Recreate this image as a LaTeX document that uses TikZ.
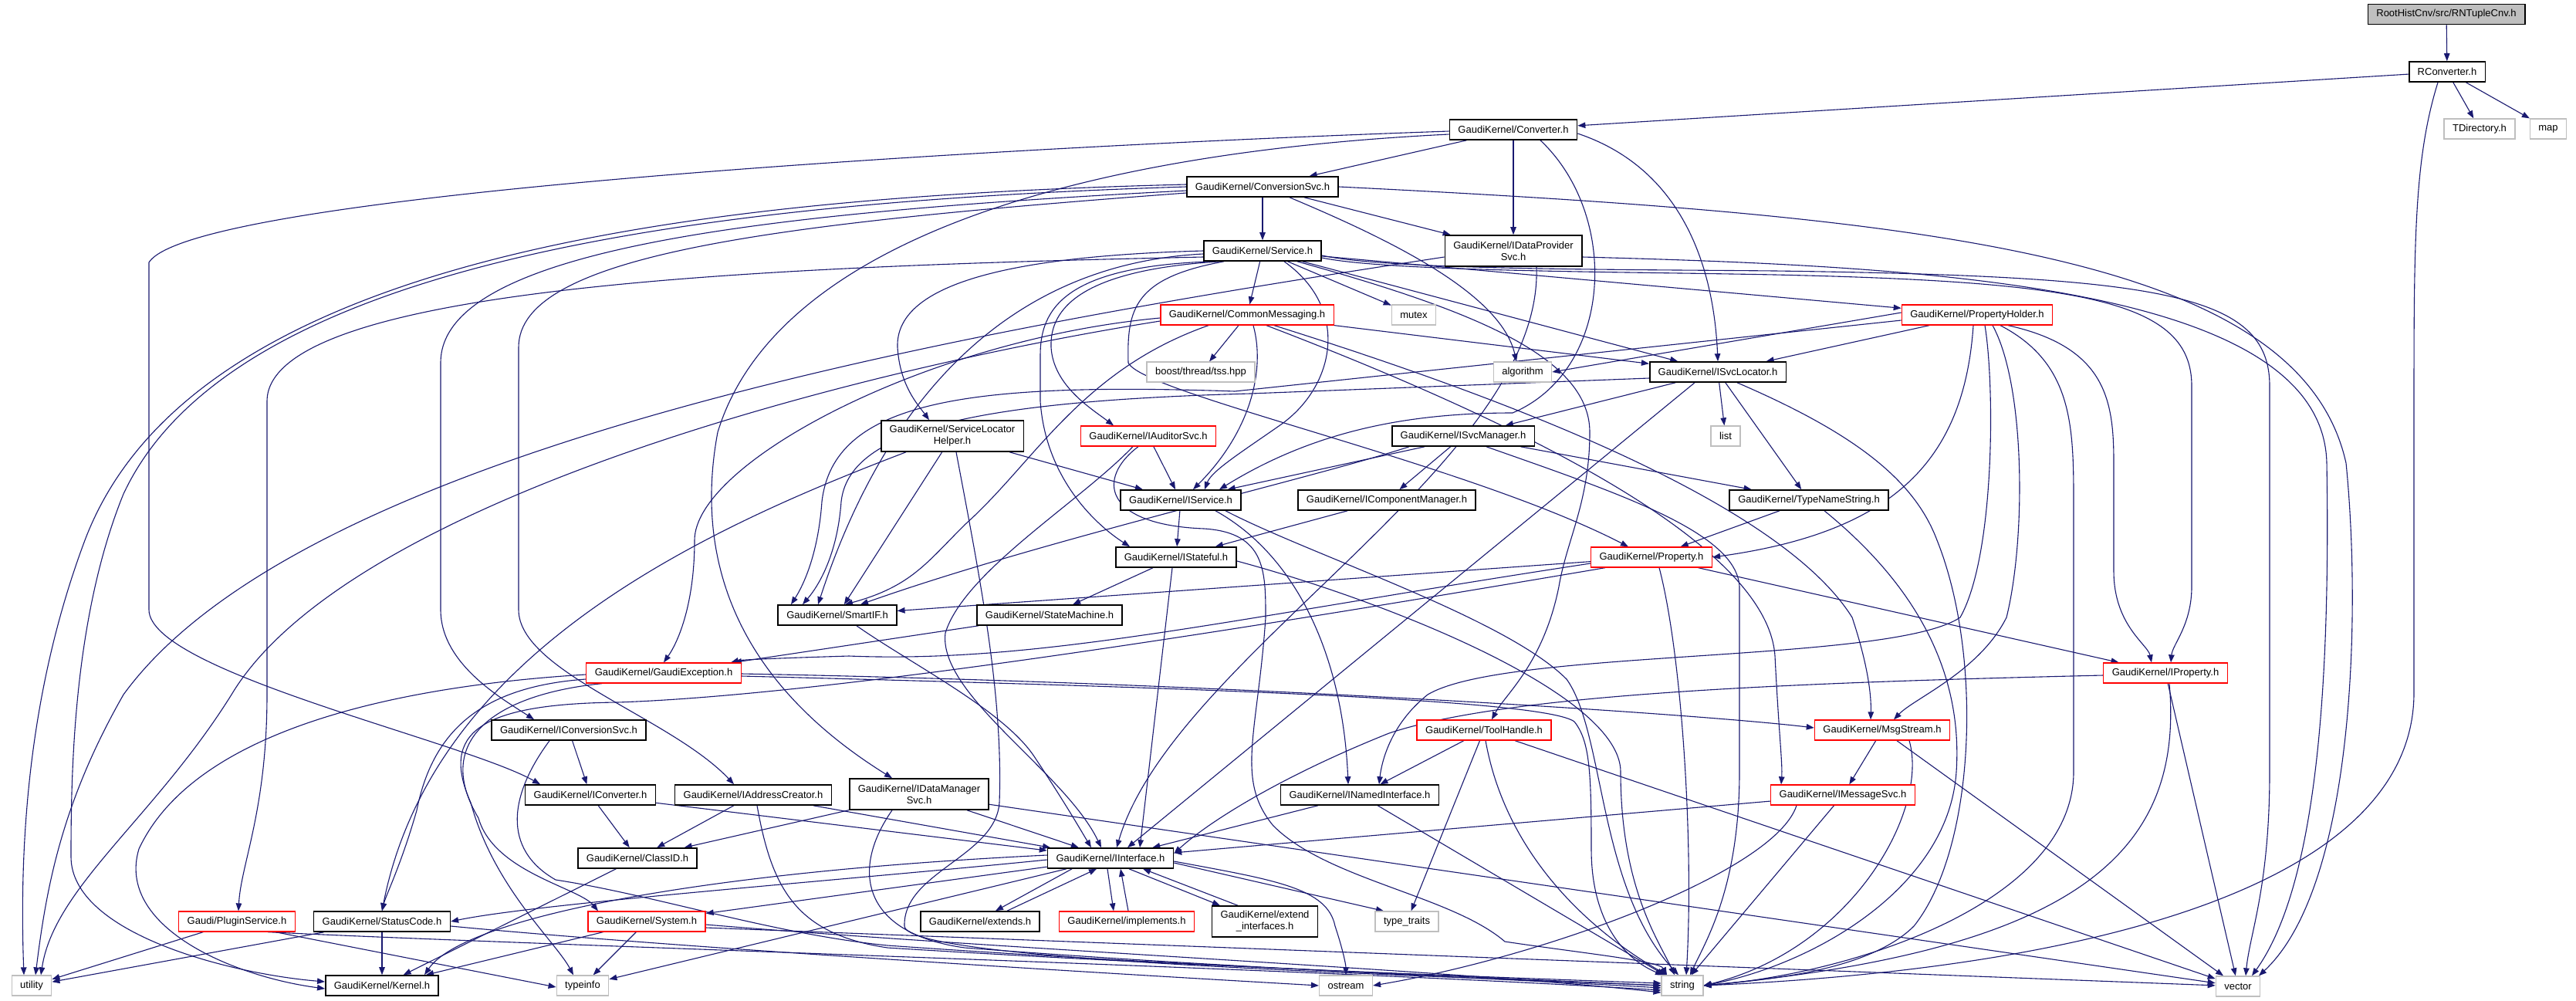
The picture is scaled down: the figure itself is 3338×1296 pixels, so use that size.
\documentclass[tikz,border=0pt]{standalone}
\usepackage{fontspec}
\setmainfont{Liberation Sans}
\usetikzlibrary{arrows.meta}
\definecolor{edgec}{HTML}{191970}
\definecolor{gline}{HTML}{BFBFBF}
\definecolor{gfill}{HTML}{BFBFBF}
\pgfdeclarelayer{bg}
\pgfsetlayers{bg,main}
\begin{document}
\begin{tikzpicture}[x=1pt,y=-1pt,
  every node/.style={font=\fontsize{13}{15}\selectfont},
  box/.style={draw, fill=white, minimum height=26pt, inner xsep=11pt, inner ysep=2pt},
  bb/.style={box, draw=black, line width=1.6pt},
  rb/.style={box, draw=red, line width=1.3pt},
  gb/.style={box, draw=gline, line width=1.3pt},
  two/.style={align=center, minimum height=40pt},
  e/.style={draw=edgec, line width=1.1pt, -{Triangle[length=10pt,width=7.5pt]}}]
\useasboundingbox (0,0) rectangle (3338,1296);
% ---------------- nodes
\node[bb, fill=gfill] (rnt) at (3170,18.5) {RootHistCnv/src/RNTupleCnv.h};
\node[bb] (rcv) at (3171,93) {RConverter.h};
\node[gb] (tdir) at (3213,167) {TDirectory.h};
\node[gb] (map) at (3302,167) {map};
\node[bb] (cnv) at (1961,168) {GaudiKernel/Converter.h};
\node[bb] (csvc) at (1636,242) {GaudiKernel/ConversionSvc.h};
\node[bb,two] (idps) at (1961,325) {GaudiKernel/IDataProvider\\Svc.h};
\node[bb] (svc) at (1636,325) {GaudiKernel/Service.h};
\node[rb] (cmsg) at (1616,408) {GaudiKernel/CommonMessaging.h};
\node[gb] (mutex) at (1832,408) {mutex};
\node[rb] (phold) at (2562,408) {GaudiKernel/PropertyHolder.h};
\node[gb] (boost) at (1556,482) {boost/thread/tss.hpp};
\node[gb] (algo) at (1973,482) {algorithm};
\node[bb] (isl) at (2226,482) {GaudiKernel/ISvcLocator.h};
\node[bb,two] (slh) at (1234,565) {GaudiKernel/ServiceLocator\\Helper.h};
\node[rb] (iaud) at (1488,565) {GaudiKernel/IAuditorSvc.h};
\node[bb] (ism) at (1896,565) {GaudiKernel/ISvcManager.h};
\node[gb] (list) at (2236,565) {list};
\node[bb] (isvc) at (1530,648) {GaudiKernel/IService.h};
\node[bb] (icm) at (1797,648) {GaudiKernel/IComponentManager.h};
\node[bb] (tns) at (2344,648) {GaudiKernel/TypeNameString.h};
\node[bb] (istf) at (1524,722) {GaudiKernel/IStateful.h};
\node[rb] (prop) at (2140,722) {GaudiKernel/Property.h};
\node[bb] (sif) at (1085,797) {GaudiKernel/SmartIF.h};
\node[bb] (stm) at (1360,797) {GaudiKernel/StateMachine.h};
\node[rb] (gexc) at (860,872) {GaudiKernel/GaudiException.h};
\node[rb] (iprop) at (2806,872) {GaudiKernel/IProperty.h};
\node[bb] (icsvc) at (737,946) {GaudiKernel/IConversionSvc.h};
\node[rb] (tool) at (1923,946) {GaudiKernel/ToolHandle.h};
\node[rb] (msg) at (2439,946) {GaudiKernel/MsgStream.h};
\node[bb] (icnv) at (765,1030) {GaudiKernel/IConverter.h};
\node[bb] (iac) at (976,1030) {GaudiKernel/IAddressCreator.h};
\node[bb,two] (idms) at (1191,1029) {GaudiKernel/IDataManager\\Svc.h};
\node[bb] (ini) at (1762,1030) {GaudiKernel/INamedInterface.h};
\node[rb] (imsg) at (2388,1030) {GaudiKernel/IMessageSvc.h};
\node[bb] (cid) at (826,1112) {GaudiKernel/ClassID.h};
\node[bb] (iif) at (1439,1112) {GaudiKernel/IInterface.h};
\node[rb] (plug) at (307,1194) {Gaudi/PluginService.h};
\node[bb] (sc) at (495,1194) {GaudiKernel/StatusCode.h};
\node[rb] (sys) at (838,1194) {GaudiKernel/System.h};
\node[bb] (ext) at (1270,1194) {GaudiKernel/extends.h};
\node[rb] (impl) at (1460,1194) {GaudiKernel/implements.h};
\node[bb,two] (exti) at (1639,1194) {GaudiKernel/extend\\\_interfaces.h};
\node[gb] (tt) at (1823,1194) {type\_traits};
\node[gb] (util) at (41,1277) {utility};
\node[bb] (kern) at (495,1277) {GaudiKernel/Kernel.h};
\node[gb] (tinfo) at (755,1277) {typeinfo};
\node[gb] (ost) at (1744,1277) {ostream};
\node[gb] (str) at (2180,1277) {string};
\node[gb] (vec) at (2900,1278) {vector};
% ---------------- edges
\begin{pgfonlayer}{bg}
\fill[white] (0,0) rectangle (3338,1296);
% RNTupleCnv / RConverter
\draw[e] (rnt) -- (rcv);
\draw[e] (rcv) -- (cnv);
\draw[e] (rcv) -- (tdir);
\draw[e] (rcv) -- (map);
\draw[e] ([xshift=-12pt]rcv.south) .. controls (3130,200) and (3128,300) .. (3128,500) -- (3128,900) .. controls (3125,1150) and (2700,1255) .. (str.east);
% Converter
\draw[e] (cnv) -- (csvc);
\draw[e] (cnv) -- (idps);
\draw[e] ([yshift=-5pt]cnv.east) .. controls (2170,215) and (2220,330) .. (isl.north);
\draw[e] ([xshift=35pt]cnv.south) .. controls (2100,280) and (2090,480) .. (1960,535) .. controls (1820,535) and (1700,560) .. ([xshift=50pt]isvc.north);
\draw[e] ([yshift=-2pt]cnv.west) .. controls (1300,190) and (250,250) .. (193,340) -- (193,790) .. controls (193,870) and (600,960) .. ([xshift=-65pt]icnv.north);
\draw[e] ([yshift=-6pt]cnv.west) .. controls (1350,200) and (1000,330) .. (930,560) .. controls (900,720) and (950,880) .. ([xshift=-35pt]idms.north);
% ConversionSvc
\draw[e] (csvc) -- (svc);
\draw[e] (csvc) -- (idps);
\draw[e] ([xshift=35pt]csvc.south) .. controls (1800,310) and (1945,380) .. ([xshift=-8pt]algo.north);
\draw[e] (csvc.east) .. controls (2500,280) and (2980,330) .. (3040,600) .. controls (3060,800) and (3050,1150) .. ([xshift=27pt]vec.north);
\draw[e] ([yshift=-5pt]csvc.west) .. controls (1000,275) and (571,320) .. (571,470) -- (571,790) .. controls (571,860) and (650,905) .. ([xshift=-45pt]icsvc.north);
\draw[e] ([yshift=-8pt]csvc.west) .. controls (1000,290) and (672,330) .. (672,450) -- (672,790) .. controls (672,870) and (870,930) .. ([xshift=-25pt]iac.north);
\draw[e] ([yshift=3pt]csvc.west) .. controls (900,255) and (250,330) .. (110,700) .. controls (35,900) and (25,1100) .. ([xshift=-10pt]util.north);
\draw[e] (csvc.west) .. controls (900,262) and (300,340) .. (160,640) .. controls (95,800) and (92,1000) .. (92,1110) .. controls (92,1210) and (300,1262) .. ([yshift=5pt]kern.west);
% IDataProviderSvc
\draw[e] ([yshift=-8pt]idps.west) .. controls (1300,420) and (400,570) .. (160,900) .. controls (80,1040) and (60,1150) .. ([xshift=5pt]util.north);
\draw[e] ([yshift=-8pt]idps.east) .. controls (2500,345) and (3010,370) .. (3015,600) .. controls (3020,900) and (3000,1150) .. ([xshift=18pt]vec.north);
\draw[e] ([xshift=30pt]idps.south) .. controls (2000,600) and (1520,850) .. ([xshift=8pt]iif.north);
% Service
\draw[e] (svc) -- (cmsg);
\draw[e] (svc) -- (mutex);
\draw[e] (svc) -- (isl);
\draw[e] (svc) -- (phold);
\draw[e] ([yshift=-9pt]svc.east) .. controls (1800,352) and (2100,352) .. (2300,356) .. controls (2700,365) and (2840,390) .. (2840,500) -- (2840,760) .. controls (2840,810) and (2815,835) .. ([xshift=7pt]iprop.north);
\draw[e] ([yshift=-6pt]svc.east) .. controls (1800,350) and (2100,349) .. (2300,351) .. controls (2800,358) and (2941,380) .. (2941,500) -- (2941,1000) .. controls (2941,1150) and (2915,1210) .. ([xshift=10pt]vec.north);
\draw[e] (svc.west) .. controls (1300,332) and (1160,370) .. (1163,450) .. controls (1166,500) and (1190,525) .. ([xshift=-30pt]slh.north);
\draw[e] ([xshift=-55pt]svc.south) .. controls (1400,350) and (1360,400) .. (1362,450) .. controls (1365,500) and (1415,530) .. ([xshift=-45pt]iaud.north);
\draw[e] ([xshift=-65pt]svc.south) .. controls (1380,345) and (1348,400) .. (1348,460) -- (1348,520) .. controls (1355,620) and (1420,680) .. ([xshift=-60pt]istf.north);
\draw[e] ([xshift=28pt]svc.south) .. controls (1750,400) and (1730,500) .. (1660,550) .. controls (1610,585) and (1570,610) .. ([xshift=31pt]isvc.north);
\draw[e] ([yshift=-4pt]svc.west) .. controls (1250,345) and (1120,600) .. ([xshift=-25pt]sif.north);
\draw[e] ([xshift=-50pt]svc.south) .. controls (1470,360) and (1460,400) .. (1462,470) .. controls (1480,510) and (1900,600) .. ([xshift=-30pt]prop.north);
\draw[e] ([xshift=45pt]svc.south) .. controls (1900,400) and (2060,460) .. (2060,560) .. controls (2060,650) and (2030,700) .. (2020,760) .. controls (2000,860) and (1950,900) .. ([xshift=10pt]tool.north);
\draw[e] ([yshift=-8pt]svc.west) .. controls (1000,345) and (346,370) .. (346,520) -- (346,900) .. controls (346,1050) and (312,1120) .. ([xshift=2pt]plug.north);
% CommonMessaging
\draw[e] (cmsg) -- (boost);
\draw[e] (cmsg) -- (isl);
\draw[e] ([xshift=8pt]cmsg.south) .. controls (1640,480) and (1620,560) .. ([xshift=16pt]isvc.north);
\draw[e] ([xshift=35pt]cmsg.south) .. controls (1900,500) and (2300,640) .. (2400,800) .. controls (2420,860) and (2425,900) .. ([xshift=-15pt]msg.north);
\draw[e] ([xshift=25pt]cmsg.south) .. controls (1950,540) and (2290,700) .. (2300,850) .. controls (2305,950) and (2310,990) .. ([xshift=-80pt]imsg.north);
\draw[e] ([xshift=-50pt]cmsg.south) .. controls (1400,480) and (1340,600) .. (1250,680) .. controls (1200,730) and (1180,760) .. ([xshift=10pt]sif.north);
\draw[e] ([yshift=-4pt]cmsg.west) .. controls (1200,440) and (900,600) .. (900,700) .. controls (900,780) and (880,830) .. (gexc.north);
\draw[e] ([yshift=-8pt]cmsg.west) .. controls (1100,480) and (450,650) .. (300,900) .. controls (200,1060) and (70,1150) .. ([xshift=12pt]util.north);
% PropertyHolder
\draw[e] ([yshift=3pt]phold.west) -- (algo.east);
\draw[e] (phold) -- (isl);
\draw[e] ([xshift=-5pt]phold.south) .. controls (2545,600) and (2450,690) .. (prop.east);
\draw[e] ([xshift=40pt]phold.south) .. controls (2730,450) and (2739,520) .. (2739,600) -- (2739,740) .. controls (2739,810) and (2783,835) .. ([xshift=-18pt]iprop.north);
\draw[e] ([xshift=30pt]phold.south) .. controls (2685,470) and (2687,550) .. (2687,650) -- (2687,1000) .. controls (2687,1170) and (2400,1262) .. (str.east);
\draw[e] ([xshift=10pt]phold.south) .. controls (2585,500) and (2585,720) .. (2540,800) .. controls (2450,860) and (1950,840) .. (1850,900) .. controls (1800,940) and (1790,990) .. ([xshift=25pt]ini.north);
\draw[e] ([xshift=20pt]phold.south) .. controls (2625,500) and (2625,700) .. (2600,800) .. controls (2565,870) and (2480,905) .. ([xshift=15pt]msg.north);
\draw[e] ([yshift=-7pt]phold.west) -- (1600,507) .. controls (1250,495) and (1080,520) .. (1065,650) .. controls (1060,720) and (1040,760) .. ([xshift=-60pt]sif.north);
% ISvcLocator
\draw[e] (isl) -- (ism);
\draw[e] (isl) -- (list);
\draw[e] (isl) -- (tns);
\draw[e] ([xshift=-30pt]isl.south) -- ([xshift=22pt]iif.north);
\draw[e] ([xshift=25pt]isl.south) .. controls (2400,560) and (2480,620) .. (2510,700) .. controls (2570,850) and (2560,1100) .. (2480,1200) .. controls (2420,1260) and (2280,1270) .. (str.east);
\draw[e] ([yshift=-8pt]isl.west) -- (1620,510) .. controls (1250,520) and (1100,560) .. (1090,650) .. controls (1085,720) and (1060,760) .. ([xshift=-45pt]sif.north);
% ServiceLocatorHelper
\draw[e] (slh) -- (isvc);
\draw[e] (slh) -- (sif);
\draw[e] ([xshift=5pt]slh.south) .. controls (1270,750) and (1300,900) .. (1295,1040) .. controls (1290,1110) and (1170,1130) .. (1172,1200) .. controls (1175,1245) and (1800,1262) .. (str.west);
\draw[e] ([xshift=-60pt]slh.south) .. controls (900,690) and (560,850) .. (sc.north);
% IAuditorSvc
\draw[e] (iaud) -- (isvc);
\draw[e] ([xshift=-20pt]iaud.south) .. controls (1400,650) and (1250,740) .. (1225,820) .. controls (1215,900) and (1380,1000) .. ([xshift=-12pt]iif.north);
\draw[e] ([xshift=-13pt]iaud.south) .. controls (1420,620) and (1430,680) .. (1560,685) .. controls (1640,690) and (1640,740) .. (1640,800) .. controls (1630,950) and (1600,1010) .. (1650,1070) .. controls (1720,1140) and (1880,1160) .. (1950,1220) .. controls (2050,1235) and (2150,1245) .. ([xshift=-20pt]str.north);
% ISvcManager
\draw[e] (ism) -- (icm);
\draw[e] (ism) -- (tns);
\draw[e] ([xshift=-50pt]ism.south) -- ([xshift=-18pt]isvc.north east);
\draw[e] ([xshift=-70pt]ism.south) .. controls (1700,620) and (1350,700) .. ([xshift=30pt]sif.north);
\draw[e] ([xshift=30pt]ism.south) .. controls (2100,640) and (2250,690) .. (2254,760) -- (2254,1000) .. controls (2254,1150) and (2210,1220) .. ([xshift=10pt]str.north);
% IComponentManager, TypeNameString
\draw[e] (icm) -- (istf);
\draw[e] (tns) -- (prop);
\draw[e] ([xshift=20pt]tns.south) .. controls (2460,740) and (2545,850) .. (2535,1000) .. controls (2525,1150) and (2350,1250) .. (str.east);
% IService
\draw[e] (isvc) -- (istf);
\draw[e] ([xshift=45pt]isvc.south) .. controls (1680,720) and (1740,850) .. ([xshift=-15pt]ini.north);
\draw[e] ([xshift=58pt]isvc.south) .. controls (1700,720) and (1950,800) .. (2030,880) .. controls (2080,950) and (2070,1150) .. ([xshift=-5pt]str.north);
% IStateful
\draw[e] ([xshift=-5pt]istf.south) -- ([xshift=38pt]iif.north);
\draw[e] (istf) -- (stm);
\draw[e] ([yshift=-5pt]istf.east) .. controls (1800,780) and (2100,900) .. (2100,1000) .. controls (2100,1150) and (2150,1220) .. ([xshift=-10pt]str.north);
% Property
\draw[e] (prop) -- (sif);
\draw[e] ([yshift=-8pt]prop.west) .. controls (1600,800) and (1350,860) .. (1100,850) .. controls (1000,853) and (960,855) .. ([xshift=87pt]gexc.north);
\draw[e] (prop) -- (iprop);
\draw[e] ([xshift=10pt]prop.south) .. controls (2180,850) and (2195,1100) .. ([xshift=5pt]str.north);
\draw[e] ([xshift=-60pt]prop.south) .. controls (1700,800) and (1100,900) .. (800,910) .. controls (620,912) and (570,950) .. (610,1040) .. controls (640,1150) and (720,1220) .. ([xshift=-12pt]tinfo.north);
% SmartIF, StateMachine
\draw[e] ([xshift=25pt]sif.south) .. controls (1180,860) and (1300,920) .. (1340,980) .. controls (1380,1040) and (1400,1075) .. ([xshift=-25pt]iif.north);
\draw[e] (stm) -- (gexc);
% GaudiException
\draw[e] ([yshift=-2pt]gexc.west) .. controls (500,890) and (250,950) .. (180,1100) .. controls (150,1200) and (300,1265) .. ([yshift=-4pt]kern.west);
\draw[e] ([yshift=-8pt]gexc.west) .. controls (620,890) and (560,950) .. (540,1050) .. controls (520,1120) and (500,1160) .. (sc.north);
\draw[e] ([xshift=-80pt]gexc.south) .. controls (640,900) and (560,960) .. (620,1060) .. controls (640,1130) and (750,1150) .. ([xshift=-63pt]sys.north);
\draw[e] ([yshift=-4pt]gexc.east) .. controls (1500,890) and (2000,905) .. (2040,935) .. controls (2060,960) and (2062,1000) .. (2062,1100) .. controls (2062,1200) and (2110,1245) .. ([xshift=-25pt]str.north);
\draw[e] ([yshift=-1pt]gexc.east) .. controls (1600,885) and (2200,925) .. ([yshift=3pt]msg.west);
% IProperty
\draw[e] (iprop) -- (vec);
\draw[e] ([yshift=-3pt]iprop.west) .. controls (2300,885) and (1950,900) .. (1800,950) .. controls (1650,1010) and (1560,1070) .. ([yshift=6pt]iif.east);
\draw[e] ([xshift=5pt]iprop.south) .. controls (2830,1100) and (2700,1230) .. (str.east);
% IConversionSvc
\draw[e] (icsvc) -- (icnv);
\draw[e] ([xshift=-25pt]icsvc.south) .. controls (660,1030) and (650,1100) .. (720,1140) .. controls (850,1160) and (1000,1210) .. (1150,1225) .. controls (1500,1250) and (1900,1265) .. (str.west);
% ToolHandle, MsgStream
\draw[e] (tool) -- (ini);
\draw[e] (tool) -- (tt);
\draw[e] ([xshift=2pt]tool.south) .. controls (1950,1100) and (2050,1200) .. ([xshift=-20pt]str.north);
\draw[e] ([xshift=40pt]tool.south) -- (vec);
\draw[e] (msg) -- (imsg);
\draw[e] ([xshift=35pt]msg.south) .. controls (2500,1050) and (2400,1230) .. (str.east);
\draw[e] (msg) -- (vec);
% IConverter, IAddressCreator, IDataManagerSvc
\draw[e] (icnv) -- (cid);
\draw[e] (icnv) -- (iif);
\draw[e] (iac) -- (cid);
\draw[e] (iac) -- (iif);
\draw[e] ([xshift=5pt]iac.south) .. controls (1000,1150) and (1030,1210) .. (1150,1228) .. controls (1500,1250) and (1900,1265) .. ([yshift=3pt]str.west);
\draw[e] (idms) -- (cid);
\draw[e] (idms) -- (iif);
\draw[e] ([xshift=-35pt]idms.south) .. controls (1100,1130) and (1120,1210) .. (1250,1228) .. controls (1600,1255) and (1950,1268) .. ([yshift=-3pt]str.west);
\draw[e] (idms) -- (vec);
% INamedInterface, IMessageSvc
\draw[e] (ini) -- (iif);
\draw[e] (ini) -- (str);
\draw[e] (imsg) -- (iif);
\draw[e] (imsg) -- (str);
\draw[e] ([xshift=-60pt]imsg.south) .. controls (2300,1130) and (2000,1240) .. (ost.east);
% ClassID, IInterface
\draw[e] (cid) -- (kern);
\draw[e] ([yshift=4pt]iif.west) .. controls (900,1130) and (600,1190) .. ([xshift=55pt]kern.north);
\draw[e] ([yshift=-2pt]iif.west) .. controls (1100,1140) and (700,1170) .. (sc.east);
\draw[e] (iif) -- (sys);
\draw[e] ([xshift=-50pt]iif.south) -- ([xshift=20pt]ext.north);
\draw[e] ([xshift=35pt]ext.north) -- ([xshift=-18pt]iif.south);
\draw[e] ([xshift=-4pt]iif.south) -- ([xshift=-17pt]impl.north);
\draw[e] ([xshift=2pt]impl.north) -- ([xshift=13pt]iif.south);
\draw[e] ([xshift=24pt]iif.south) -- ([xshift=-58pt]exti.north);
\draw[e] ([xshift=-35pt]exti.north) -- ([xshift=42pt]iif.south);
\draw[e] ([yshift=-6pt]iif.east) -- ([xshift=-30pt]tt.north);
\draw[e] (iif) -- (tinfo);
\draw[e] ([yshift=-4pt]iif.east) .. controls (1650,1140) and (1720,1150) .. (1730,1200) .. controls (1740,1230) and (1744,1250) .. (ost.north);
% PluginService, StatusCode, System
\draw[e] (plug) -- (util);
\draw[e] ([xshift=50pt]plug.south) -- ([yshift=-2pt]tinfo.west);
\draw[e] ([xshift=40pt]plug.south) .. controls (700,1225) and (1700,1255) .. ([yshift=-6pt]str.west);
\draw[e] (sc) -- (kern);
\draw[e] (sc) -- (util);
\draw[e] ([yshift=-6pt]sc.east) .. controls (900,1230) and (1500,1265) .. (ost.west);
\draw[e] (sys) -- (kern);
\draw[e] (sys) -- (tinfo);
\draw[e] ([yshift=-4pt]sys.east) .. controls (1300,1230) and (1900,1258) .. ([yshift=-9pt]str.west);
\draw[e] ([yshift=-8pt]sys.east) -- (vec);
\end{pgfonlayer}
\end{tikzpicture}
\end{document}
